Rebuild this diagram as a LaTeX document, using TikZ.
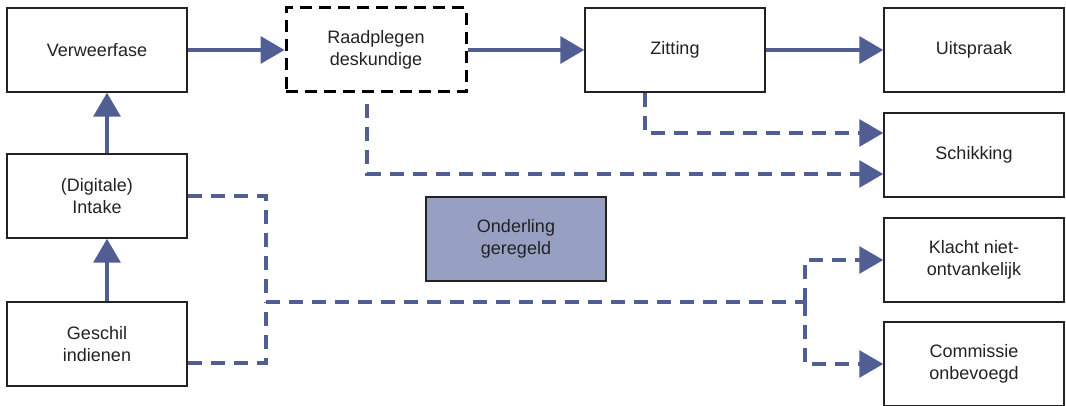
\documentclass[tikz,border=0pt]{standalone}
\usepackage{fontspec}
\setmainfont{Liberation Sans}
\usetikzlibrary{arrows.meta}
\definecolor{flowblue}{RGB}{80,94,148}
\definecolor{boxline}{RGB}{34,34,34}
\definecolor{settled}{RGB}{151,160,194}
\begin{document}
\begin{tikzpicture}[x=1pt, y=-1pt,
    box/.style={draw=boxline, line width=1.5pt, minimum width=180pt, minimum height=84pt,
        inner sep=0pt, align=center, text=boxline, font=\fontsize{18}{21.5}\selectfont},
    flow/.style={draw=flowblue, line width=3.5pt, -{Triangle[length=24pt, width=27pt]}},
    alt/.style={flow, line width=3.2pt, dash pattern=on 14pt off 9pt}]
    \useasboundingbox (0,0) rectangle (1066,406);
    \node[box] (ver) at (97, 50) {Verweerfase};
    \node[box, draw=black, line width=3pt, dash pattern=on 12pt off 7pt] (rad) at (376, 50) {Raadplegen\\deskundige};
    \node[box] (zit) at (675, 50) {Zitting};
    \node[box] (uit) at (974, 50) {Uitspraak};
    \node[box] (sch) at (974, 155) {Schikking};
    \node[box] (int) at (97, 196) {(Digitale)\\Intake};
    \node[box, fill=settled] (ond) at (516, 239) {Onderling\\geregeld};
    \node[box] (kla) at (974, 260) {Klacht niet-\\ontvankelijk};
    \node[box] (ges) at (97, 344) {Geschil\\indienen};
    \node[box] (com) at (974, 364) {Commissie\\onbevoegd};
    \coordinate (split) at (266, 302);
    \coordinate (fork) at (805, 302);
    % main route
    \draw[flow] ([xshift=10pt]ges.north) -- ([xshift=10pt]int.south);
    \draw[flow] ([xshift=10pt]int.north) -- ([xshift=10pt]ver.south);
    \draw[flow] (ver.east) -- (rad.west);
    \draw[flow] (rad.east) -- (zit.west);
    \draw[flow] (zit.east) -- (uit.west);
    % settlement
    \draw[alt] ([xshift=-30pt]zit.south) |- ([yshift=22pt]sch.west);
    \draw[alt] ([xshift=-9pt, yshift=-11pt]rad.south) |- ([yshift=-19pt]sch.west);
    % rejected cases
    \draw[alt, -] (int.east) -| (split);
    \draw[alt, -] ([yshift=-19pt]ges.east) -| (split);
    \draw[alt, -] (split) -- (fork);
    \draw[alt] (fork) |- (kla.west);
    \draw[alt] (fork) |- (com.west);
\end{tikzpicture}
\end{document}
